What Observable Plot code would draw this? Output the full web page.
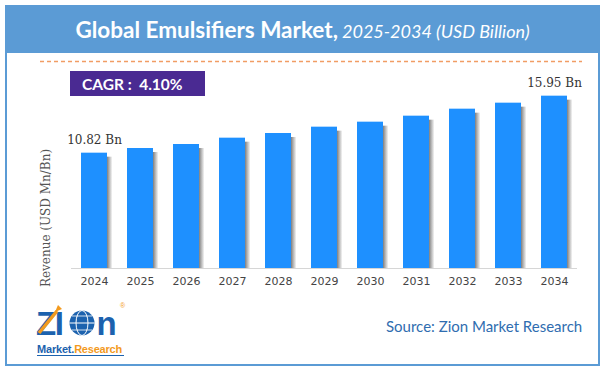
<!DOCTYPE html>
<html><head><meta charset="utf-8">
<script src="https://cdn.jsdelivr.net/npm/d3@7"></script>
<script src="https://cdn.jsdelivr.net/npm/@observablehq/plot@0.6"></script>
<style>
body{margin:0;background:#fff;}
#wrap{position:relative;width:604px;height:371px;overflow:hidden;font-family:Lato,"Open Sans",sans-serif;background:#fff;}
#frame{position:absolute;left:5px;top:5px;width:595px;height:361px;box-sizing:border-box;border:2px solid #5B9BD5;}
#band{position:absolute;left:5px;top:5px;width:595px;height:48px;background:#5B9BD5;color:#fff;text-align:center;line-height:50px;white-space:nowrap;}
#band b{font-size:22.5px;font-weight:700;}
#band i{font-size:18px;font-weight:400;}
#deco{position:absolute;left:0;top:0;}
#cagr{position:absolute;left:70px;top:71px;width:135px;height:25px;background:#4A2A92;color:#fff;font-weight:700;font-size:15.5px;line-height:26px;box-sizing:border-box;padding-left:12px;white-space:nowrap;}
#ytitle{position:absolute;left:46px;top:218px;transform:translate(-50%,-50%) rotate(-90deg);font-family:"DejaVu Serif",serif;font-size:12px;color:#555;white-space:nowrap;}
#chart{position:absolute;left:0;top:60px;}
#source{position:absolute;left:386px;top:317px;font-size:15px;color:#2F6DB0;white-space:nowrap;}
#logo{position:absolute;left:34px;top:299px;}
</style></head>
<body><div id="wrap">
<div id="frame"></div>
<div id="band"><b>Global Emulsifiers Market,</b> <i>2025-2034 (USD Billion)</i></div>
<svg id="deco" width="604" height="371"><line x1="40" x2="582" y1="61.5" y2="61.5" stroke="#F19D64" stroke-width="1.3" stroke-dasharray="4,3"/></svg>
<div id="cagr">CAGR :&nbsp; 4.10%</div>
<div id="ytitle">Revenue (USD Mn/Bn)</div>
<div id="chart"></div>
<svg id="logo" width="100" height="60">
  <text x="2" y="36" font-family="Liberation Sans, Arial" font-weight="700" font-size="33" fill="#1C62AE" letter-spacing="-1.5">ZI</text>
  <path d="M5 34 L23 12" stroke="#F39A1E" stroke-width="3.5" fill="none"/>
  <path d="M24 6 L28 10 L21 13 Z" fill="#F39A1E"/>
  <circle cx="48" cy="24" r="12.5" fill="#1C62AE"/>
  <ellipse cx="48" cy="24" rx="6" ry="12.5" fill="none" stroke="#fff" stroke-width="1"/>
  <line x1="35.5" x2="60.5" y1="24" y2="24" stroke="#fff" stroke-width="1"/>
  <line x1="38" x2="58" y1="17" y2="17" stroke="#fff" stroke-width="0.8"/>
  <line x1="38" x2="58" y1="31" y2="31" stroke="#fff" stroke-width="0.8"/>
  <text x="62.5" y="36" font-family="Liberation Sans, Arial" font-weight="700" font-size="33" fill="#1C62AE">n</text>
  <text x="86" y="9" font-family="Liberation Sans, Arial" font-size="7" fill="#F39A1E">®</text>
  <text x="3" y="54" font-family="Liberation Sans, Arial" font-weight="700" font-size="11" fill="#1C62AE" letter-spacing="-0.2">Market.<tspan fill="#F39A1E">Research</tspan></text>
  <line x1="3" x2="90" y1="56.5" y2="56.5" stroke="#1C62AE" stroke-width="1"/>
</svg>
<div id="source">Source: Zion Market Research</div>
</div>
<script>
const years = ["2024","2025","2026","2027","2028","2029","2030","2031","2032","2033","2034"];
const values = [10.82, 11.24, 11.60, 12.17, 12.59, 13.16, 13.61, 14.15, 14.78, 15.32, 15.95];
const valueLabels = ["10.82 Bn","","","","","","","","","","15.95 Bn"];
const yMin = 0.44, yMax = 17.36;

const data = years.map((y,i)=>({year:y, value:values[i], label:valueLabels[i]}));

const chart = Plot.plot({
  width:604, height:240,
  marginLeft:71, marginRight:27, marginTop:20, marginBottom:32,
  style:{background:"transparent", fontFamily:"DejaVu Sans, sans-serif", fontSize:"11px", color:"#444"},
  x:{domain:years, paddingInner:0.43, paddingOuter:0.215, tickSize:0, tickPadding:9, label:null},
  y:{domain:[yMin,yMax], axis:null},
  marks:[
    Plot.barY(data,{x:"year", y1:yMin, y2:"value", fill:"#888888", dx:5, insetTop:4}),
    Plot.barY(data,{x:"year", y1:yMin, y2:"value", fill:"#1E90FF"}),
    Plot.ruleY([yMin],{stroke:"#d6d6d6"}),
    Plot.text(data.filter(d=>d.label),{x:"year", y:"value", text:"label", dy:-13, fontFamily:"DejaVu Serif, serif", fontSize:12, fill:"#333"})
  ]
});
const ns = "http://www.w3.org/2000/svg";
const defs = document.createElementNS(ns,"defs");
defs.innerHTML = '<linearGradient id="shadowGrad" x1="0" x2="1" y1="0" y2="0"><stop offset="0" stop-color="#777"/><stop offset="0.8" stop-color="#7a7a7a"/><stop offset="1" stop-color="#f4f4f4"/></linearGradient>';
chart.insertBefore(defs, chart.firstChild);
const barGroups = chart.querySelectorAll('g[aria-label="bar"]');
if (barGroups.length) {
  barGroups[0].setAttribute("fill", "url(#shadowGrad)");
  barGroups[0].querySelectorAll("rect").forEach(r => r.removeAttribute("fill"));
}
document.getElementById("chart").appendChild(chart);
</script>
</body></html>
